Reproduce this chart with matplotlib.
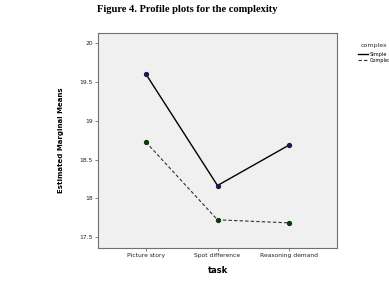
import matplotlib
matplotlib.use("Agg")
import matplotlib.pyplot as plt

tasks = ["Picture story", "Spot difference", "Reasoning demand"]
simple = [19.60, 18.165, 18.686]
complex_ = [18.724, 17.723, 17.684]
yticks = [17.5, 18, 18.5, 19, 19.5, 20]
yticklabels = ["17.5", "18", "18.5", "19", "19.5", "20"]

W, H = 389, 281
fig = plt.figure(figsize=(W / 100, H / 100), dpi=100)
ax = fig.add_axes([98 / W, 1 - 248 / H, (337 - 98) / W, (248 - 33) / H])
ax.set_facecolor("#f0f0f0")
for s in ax.spines.values():
    s.set_color("#707070")
    s.set_linewidth(0.8)

x = list(range(len(tasks)))
ax.plot(x, simple, color="black", lw=1.0, ls="-", marker="o", ms=2.8,
        mfc="#1a1a50", mec="#1a1a50", label="Simple")
ax.plot(x, complex_, color="#303030", lw=0.8, ls=(0, (3, 2)), marker="o", ms=2.8,
        mfc="#0a3a0a", mec="#0a3a0a", label="Complex")

ax.set_xlim(-0.67, 2.67)
ax.set_ylim(17.36, 20.13)
ax.set_xticks(x)
ax.set_xticklabels(tasks, fontsize=4.3, color="#202020")
ax.set_yticks(yticks)
ax.set_yticklabels(yticklabels, fontsize=4.3, color="#202020")
ax.tick_params(length=2.5, width=0.5, color="#505050", pad=1)
ax.set_xlabel("task", fontsize=6, fontweight="bold", labelpad=6)
ax.set_ylabel("Estimated Marginal Means", fontsize=5.0, fontweight="bold", labelpad=11,
              family="Liberation Sans Narrow")

fig.text(187 / W, 1 - 9 / H, "Figure 4. Profile plots for the complexity",
         ha="center", va="center", fontsize=7.6, fontweight="bold",
         family="Liberation Serif")

fig.text(361 / W, 1 - 46 / H, "complex", fontsize=4.5, va="center", color="#303030")
leg = ax.legend(loc="upper left", fontsize=3.6, frameon=False, handlelength=2.0,
                handletextpad=0.4, borderaxespad=0, labelspacing=0.2)
leg.set_bbox_to_anchor((356 / W, 1 - 50 / H), transform=fig.transFigure)
for h in leg.legend_handles:
    h.set_marker("")

fig.savefig("out.png", dpi=100, facecolor="white")
